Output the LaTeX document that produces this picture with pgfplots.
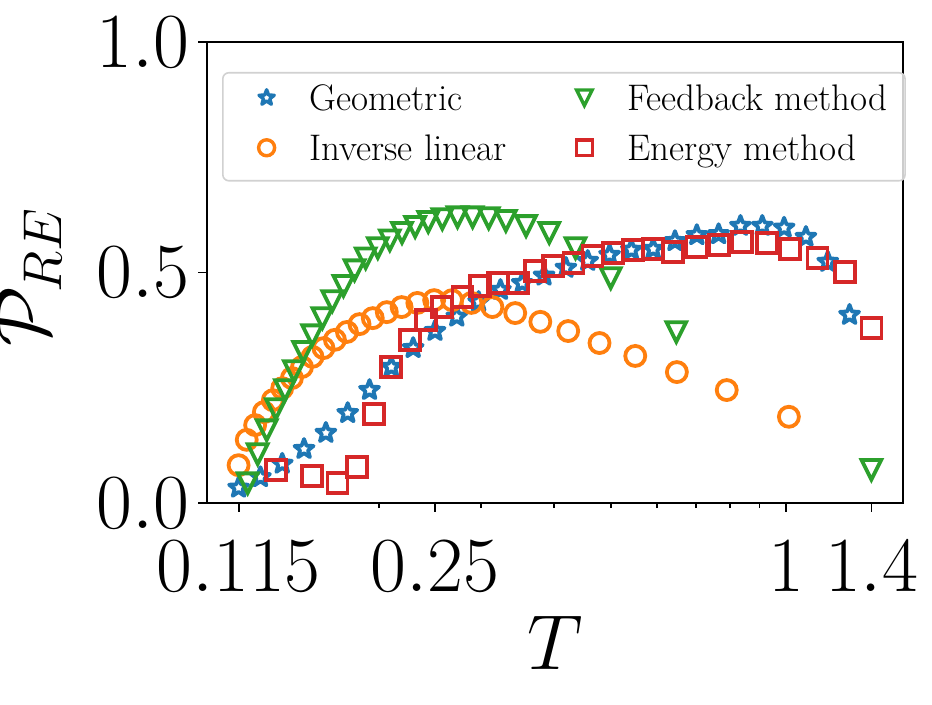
\RequirePackage{fix-cm}
\documentclass[border=0pt]{standalone}
\usepackage{pgfplots}
\pgfplotsset{compat=1.18}
\definecolor{tabblue}{HTML}{1F77B4}
\definecolor{taborange}{HTML}{FF7F0E}
\definecolor{tabgreen}{HTML}{2CA02C}
\definecolor{tabred}{HTML}{D62728}
\newcommand\legfont{\fontsize{18.5}{22}\selectfont}
\newcommand\bigfont{\fontsize{39}{44}\selectfont}
\pgfdeclareplotmark{fivestar}{%
  \pgfpathmoveto{\pgfpointpolar{90}{\pgfplotmarksize}}%
  \pgfpathlineto{\pgfpointpolar{126}{0.42\pgfplotmarksize}}%
  \pgfpathlineto{\pgfpointpolar{162}{\pgfplotmarksize}}%
  \pgfpathlineto{\pgfpointpolar{198}{0.42\pgfplotmarksize}}%
  \pgfpathlineto{\pgfpointpolar{234}{\pgfplotmarksize}}%
  \pgfpathlineto{\pgfpointpolar{270}{0.42\pgfplotmarksize}}%
  \pgfpathlineto{\pgfpointpolar{306}{\pgfplotmarksize}}%
  \pgfpathlineto{\pgfpointpolar{342}{0.42\pgfplotmarksize}}%
  \pgfpathlineto{\pgfpointpolar{18}{\pgfplotmarksize}}%
  \pgfpathlineto{\pgfpointpolar{54}{0.42\pgfplotmarksize}}%
  \pgfpathclose\pgfusepathqstroke}
\pgfdeclareplotmark{tridown}{%
  \pgfpathmoveto{\pgfqpoint{0pt}{-\pgfplotmarksize}}%
  \pgfpathlineto{\pgfqpoint{-\pgfplotmarksize}{\pgfplotmarksize}}%
  \pgfpathlineto{\pgfqpoint{\pgfplotmarksize}{\pgfplotmarksize}}%
  \pgfpathclose\pgfusepathqstroke}
\pgfplotsset{mylegimg/.style={legend image code/.code={%
  \path (0pt,0pt) (33.5pt,0pt);
  \draw[##1] plot coordinates {(15.5pt,2pt)};}}}
\begin{document}
\begin{tikzpicture}
\path[use as bounding box] (-103.5pt,-101pt) rectangle (362.5pt,251.5pt);
\begin{axis}[
  at={(0pt,0pt)}, anchor=south west, scale only axis,
  width=348pt, height=230.5pt,
  xmode=log, xmin=0.1015, xmax=1.586, ymin=0, ymax=1,
  xtick={0.115,0.25,1,1.4}, xticklabels={$0.115$,$0.25$,$1$,$1.4$},
  minor xtick={0.2,0.3,0.4,0.5,0.6,0.7,0.8,0.9},
  ytick={0,0.5,1}, yticklabels={$0.0$,$0.5$,$1.0$},
  tick align=outside, tick pos=left,
  major tick length=4.5pt, minor tick length=2.6pt,
  every tick/.style={black, line width=0.9pt},
  axis line style={line width=0.9pt},
  tick label style={font=\bigfont, inner sep=0pt},
  xticklabel style={anchor=north, yshift=-14.5pt},
  yticklabel style={anchor=east, xshift=-4pt},
  xlabel={$T$}, ylabel={$\mathcal{P}_{RE}$},
  every axis x label/.style={at={(axis description cs:0.5,-0.362)}, anchor=base, font=\bigfont},
  every axis y label/.style={at={(axis description cs:-0.226,0.49)}, anchor=base, rotate=90, font=\bigfont},
  legend columns=2, legend cell align=left,
  legend style={at={(0.0216,0.935)}, anchor=north west,
    draw=black!18, line width=0.8pt, rounded corners=3pt,
    fill=white, fill opacity=0.8, text opacity=1, font=\legfont,
    inner xsep=6pt, inner ysep=5pt,
    nodes={inner xsep=3pt, inner ysep=0pt, text height=14pt, text depth=5pt},
    row sep=6pt, /tikz/column 2/.style={column sep=20pt}},
  mark options={solid},
]
\addlegendimage{only marks, mark=fivestar, color=tabblue, mark size=4pt, mark options={line width=1.7pt, line join=round}, mylegimg}
\addlegendentry{Geometric}
\addlegendimage{only marks, mark=tridown, color=tabgreen, mark size=3.9pt, mark options={line width=1.7pt}, mylegimg}
\addlegendentry{Feedback method}
\addlegendimage{only marks, mark=o, color=taborange, mark size=4.0pt, mark options={line width=1.7pt}, mylegimg}
\addlegendentry{Inverse linear}
\addlegendimage{only marks, mark=square, color=tabred, mark size=3.9pt, mark options={line width=1.7pt}, mylegimg}
\addlegendentry{Energy method}

\addplot[forget plot, only marks, mark=fivestar, color=tabblue, mark size=5pt, mark options={line width=1.9pt, line join=round}] coordinates {
(0.115,0.033)(0.12535,0.056)(0.13663,0.085)(0.14893,0.117)(0.16233,0.152)(0.17694,0.195)(0.19287,0.245)(0.21022,0.295)(0.22914,0.336)(0.24977,0.373)(0.27225,0.404)(0.29675,0.436)(0.32346,0.462)(0.35257,0.477)(0.38430,0.493)(0.41889,0.510)(0.45659,0.525)(0.49768,0.538)(0.54247,0.549)(0.59130,0.551)(0.64451,0.568)(0.70252,0.581)(0.76574,0.583)(0.83466,0.601)(0.90978,0.601)(0.99166,0.597)(1.08091,0.577)(1.17819,0.523)(1.28423,0.408)};
\addplot[forget plot, only marks, mark=o, color=taborange, mark size=5pt, mark options={line width=1.9pt}] coordinates {
(0.11499,0.082)(0.11875,0.137)(0.12276,0.169)(0.12706,0.197)(0.13166,0.223)(0.13661,0.249)(0.14195,0.271)(0.14772,0.295)(0.15398,0.317)(0.16080,0.336)(0.16824,0.354)(0.17641,0.371)(0.18541,0.388)(0.19538,0.401)(0.20649,0.414)(0.21893,0.425)(0.23297,0.434)(0.24893,0.440)(0.26724,0.440)(0.28846,0.434)(0.31334,0.425)(0.34291,0.412)(0.37865,0.393)(0.42271,0.373)(0.47836,0.347)(0.55089,0.319)(0.64934,0.284)(0.79065,0.245)(1.01057,0.187)};
\addplot[forget plot, only marks, mark=tridown, color=tabgreen, mark size=4.9pt, mark options={line width=1.9pt}] coordinates {
(0.1192,0.043)(0.1240,0.106)(0.1285,0.158)(0.1332,0.204)(0.1381,0.245)(0.1431,0.286)(0.1484,0.328)(0.1538,0.364)(0.1601,0.401)(0.1665,0.438)(0.1740,0.471)(0.1818,0.505)(0.1900,0.531)(0.1993,0.553)(0.2090,0.570)(0.2193,0.586)(0.2309,0.599)(0.2432,0.610)(0.2571,0.616)(0.2730,0.620)(0.2898,0.620)(0.3088,0.618)(0.3305,0.612)(0.3579,0.601)(0.3922,0.586)(0.4350,0.553)(0.5001,0.488)(0.6479,0.371)(1.4,0.072)};
\addplot[forget plot, only marks, mark=square, color=tabred, mark size=5pt, mark options={line width=1.9pt}] coordinates {
(0.13324,0.072)(0.15379,0.059)(0.16990,0.043)(0.18331,0.078)(0.19616,0.193)(0.20989,0.295)(0.22636,0.354)(0.24125,0.397)(0.25716,0.425)(0.27849,0.447)(0.29795,0.471)(0.32004,0.477)(0.34669,0.477)(0.37099,0.503)(0.39855,0.514)(0.43158,0.521)(0.46540,0.536)(0.50414,0.542)(0.54603,0.549)(0.59115,0.551)(0.63989,0.545)(0.70188,0.555)(0.76618,0.560)(0.83950,0.566)(0.92737,0.564)(1.01639,0.551)(1.13185,0.532)(1.26019,0.501)(1.4,0.380)};
\end{axis}
\end{tikzpicture}
\end{document}
